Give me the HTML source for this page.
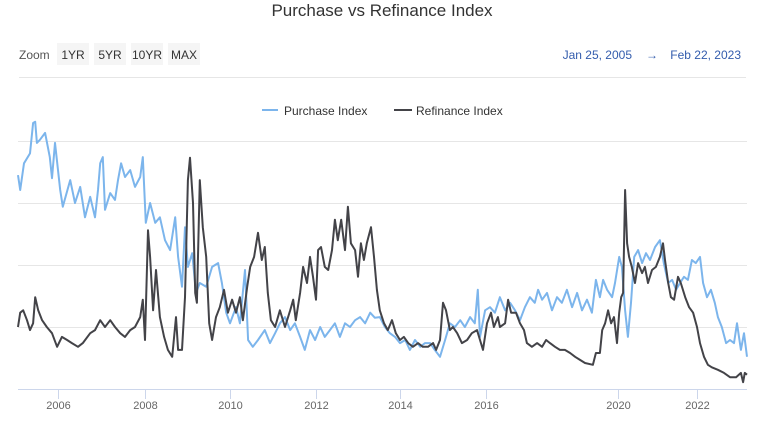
<!DOCTYPE html>
<html><head><meta charset="utf-8">
<style>
html,body{margin:0;padding:0;background:#fff;}
body{width:759px;height:422px;overflow:hidden;font-family:"Liberation Sans","DejaVu Sans",sans-serif;}
svg text{font-family:"Liberation Sans","DejaVu Sans",sans-serif;}
</style></head>
<body>
<svg id="chart" width="759" height="422" viewBox="0 0 759 422" xmlns="http://www.w3.org/2000/svg">
  <text x="382" y="16" text-anchor="middle" font-size="17" fill="#333">Purchase vs Refinance Index</text>
  <text x="19" y="59" font-size="12" fill="#555">Zoom</text>
  <g><rect x="57" y="43" width="32" height="22" fill="#f5f5f5"/><text x="73" y="59" text-anchor="middle" font-size="12" fill="#333">1YR</text></g>
  <g><rect x="94" y="43" width="32" height="22" fill="#f5f5f5"/><text x="110" y="59" text-anchor="middle" font-size="12" fill="#333">5YR</text></g>
  <g><rect x="131" y="43" width="32" height="22" fill="#f5f5f5"/><text x="147" y="59" text-anchor="middle" font-size="12" fill="#333">10YR</text></g>
  <g><rect x="168" y="43" width="32" height="22" fill="#f5f5f5"/><text x="184" y="59" text-anchor="middle" font-size="12" fill="#333">MAX</text></g>
  <text x="632" y="59" text-anchor="end" font-size="12" fill="#335cad">Jan 25, 2005</text>
  <text x="652" y="59" text-anchor="middle" font-size="12" fill="#335cad">→</text>
  <text x="741" y="59" text-anchor="end" font-size="12" fill="#335cad">Feb 22, 2023</text>
  <line x1="19" y1="77.5" x2="746" y2="77.5" stroke="#e6e6e6"/>
  <g><line x1="262" y1="110" x2="278" y2="110" stroke="#7cb5ec" stroke-width="2"/><text x="284" y="115" font-size="12" fill="#333">Purchase Index</text></g>
  <g><line x1="394" y1="110" x2="412" y2="110" stroke="#434348" stroke-width="2"/><text x="416" y="115" font-size="12" fill="#333">Refinance Index</text></g>
  <g id="grid"></g><g id="xaxis"></g><g id="series"></g>
</svg>
<script>
const gridValues = [100, 200, 300, 400];
const tickYears = [2006, 2008, 2010, 2012, 2014, 2016, 2020, 2022];
const purchaseDates = [2005.07,2005.12,2005.21,2005.35,2005.42,2005.47,2005.51,2005.58,2005.70,2005.81,2005.86,2005.93,2006.05,2006.11,2006.28,2006.39,2006.51,2006.62,2006.74,2006.85,2006.92,2006.97,2007.03,2007.08,2007.20,2007.31,2007.38,2007.45,2007.54,2007.66,2007.77,2007.89,2007.95,2008.02,2008.12,2008.24,2008.35,2008.47,2008.59,2008.71,2008.78,2008.87,2008.94,2009.01,2009.11,2009.20,2009.29,2009.44,2009.58,2009.72,2009.81,2009.91,2010.00,2010.14,2010.23,2010.35,2010.42,2010.53,2010.65,2010.81,2010.93,2011.05,2011.16,2011.28,2011.40,2011.51,2011.63,2011.74,2011.86,2011.98,2012.10,2012.21,2012.33,2012.45,2012.57,2012.69,2012.81,2012.93,2013.05,2013.17,2013.29,2013.40,2013.52,2013.64,2013.76,2013.88,2014.00,2014.12,2014.23,2014.35,2014.47,2014.58,2014.70,2014.81,2014.93,2015.05,2015.16,2015.28,2015.40,2015.51,2015.63,2015.74,2015.81,2015.86,2015.98,2016.12,2016.27,2016.42,2016.58,2016.73,2016.88,2017.03,2017.18,2017.33,2017.48,2017.58,2017.70,2017.85,2018.00,2018.15,2018.30,2018.45,2018.61,2018.76,2018.91,2019.06,2019.21,2019.33,2019.45,2019.55,2019.67,2019.82,2019.91,2020.03,2020.10,2020.18,2020.25,2020.33,2020.41,2020.51,2020.61,2020.71,2020.81,2020.94,2021.06,2021.16,2021.27,2021.37,2021.47,2021.57,2021.67,2021.77,2021.87,2021.97,2022.07,2022.14,2022.23,2022.32,2022.41,2022.48,2022.57,2022.67,2022.76,2022.85,2022.92,2023.01,2023.08,2023.15];
const purchaseValues = [345,321,364,380,429,431,397,402,413,374,340,397,321,294,337,300,326,277,310,277,321,364,374,289,316,305,337,364,342,353,326,342,374,268,300,268,277,240,224,277,213,165,261,197,219,155,171,165,197,203,171,123,106,132,106,192,79,68,79,95,74,90,106,116,95,106,84,63,95,79,100,84,95,106,84,106,100,111,116,106,123,115,116,100,90,84,74,79,63,79,68,74,74,63,52,79,106,100,111,100,116,106,160,84,127,132,123,148,127,139,127,111,132,148,139,160,144,155,127,148,139,160,132,155,127,144,123,176,148,176,160,148,171,213,197,127,84,139,213,224,203,219,208,229,240,203,171,176,160,171,181,176,208,203,213,171,148,160,139,116,100,74,79,74,106,63,90,52];
const refiDates = [2005.07,2005.12,2005.19,2005.28,2005.35,2005.42,2005.47,2005.54,2005.63,2005.74,2005.86,2005.98,2006.09,2006.21,2006.32,2006.46,2006.57,2006.74,2006.85,2006.97,2007.08,2007.20,2007.31,2007.43,2007.54,2007.66,2007.77,2007.89,2007.95,2008.00,2008.07,2008.12,2008.19,2008.26,2008.35,2008.45,2008.54,2008.64,2008.73,2008.78,2008.87,2008.94,2009.01,2009.06,2009.13,2009.18,2009.22,2009.29,2009.36,2009.44,2009.51,2009.58,2009.67,2009.76,2009.86,2009.95,2010.05,2010.14,2010.23,2010.30,2010.40,2010.47,2010.56,2010.65,2010.74,2010.81,2010.88,2010.95,2011.05,2011.16,2011.28,2011.40,2011.47,2011.53,2011.63,2011.70,2011.79,2011.86,2011.93,2012.00,2012.05,2012.12,2012.21,2012.29,2012.38,2012.45,2012.52,2012.60,2012.69,2012.76,2012.83,2012.93,2013.00,2013.07,2013.14,2013.21,2013.31,2013.38,2013.45,2013.52,2013.62,2013.71,2013.81,2013.90,2014.00,2014.09,2014.19,2014.30,2014.42,2014.53,2014.65,2014.77,2014.84,2014.93,2015.00,2015.07,2015.16,2015.23,2015.33,2015.44,2015.56,2015.67,2015.79,2015.86,2015.93,2016.03,2016.15,2016.24,2016.36,2016.42,2016.58,2016.67,2016.76,2016.91,2017.03,2017.15,2017.24,2017.39,2017.55,2017.70,2017.82,2017.94,2018.09,2018.24,2018.39,2018.55,2018.70,2018.85,2019.00,2019.24,2019.33,2019.45,2019.52,2019.61,2019.70,2019.79,2019.88,2019.97,2020.03,2020.08,2020.13,2020.18,2020.23,2020.28,2020.35,2020.43,2020.51,2020.61,2020.68,2020.76,2020.86,2020.96,2021.06,2021.14,2021.19,2021.27,2021.34,2021.42,2021.52,2021.59,2021.70,2021.80,2021.90,2022.00,2022.07,2022.16,2022.25,2022.34,2022.48,2022.62,2022.76,2022.90,2023.01,2023.06,2023.10,2023.15];
const refiValues = [100,123,127,111,95,106,148,127,111,100,90,68,84,79,74,68,74,90,95,111,100,111,100,90,84,95,100,116,144,79,256,213,127,192,116,84,63,52,116,63,63,148,337,373,300,155,139,337,261,213,106,79,116,132,160,123,144,123,148,111,165,197,213,252,208,229,155,111,100,127,100,127,144,111,155,197,171,213,181,144,224,229,197,192,224,273,240,273,224,294,235,224,181,235,208,235,261,213,160,127,106,95,111,90,79,84,74,68,74,68,68,74,63,79,139,127,95,100,90,74,79,90,95,79,63,106,123,100,116,100,106,144,123,123,106,95,74,68,74,68,79,74,68,63,63,58,52,47,42,39,58,58,95,106,127,106,116,74,123,148,155,321,235,213,197,171,203,187,197,171,192,197,213,235,208,171,148,144,181,171,148,132,123,100,74,52,39,35,31,26,19,19,26,11,26,23];

const axisYears = [2005.07, 2006, 2008, 2010, 2012, 2014, 2016, 2020, 2022, 2023.15];
const axisPx = [18, 58, 145, 230, 316, 400, 486, 618, 697, 747];
function xScale(yr){
  for(let i=0;i<axisYears.length-1;i++){
    if(yr<=axisYears[i+1]||i===axisYears.length-2){
      const t=(yr-axisYears[i])/(axisYears[i+1]-axisYears[i]);
      return axisPx[i]+t*(axisPx[i+1]-axisPx[i]);
    }
  }
}
function yScale(v){ return 389 - v*0.62; }
const NS='http://www.w3.org/2000/svg';
const grid=document.getElementById('grid');
gridValues.forEach(v=>{
  const l=document.createElementNS(NS,'line');
  
  
  l.setAttribute('x1',18);l.setAttribute('x2',747);
  const y=Math.round(yScale(v))+0.5;
  l.setAttribute('y1',y);l.setAttribute('y2',y);
  l.setAttribute('stroke','#e6e6e6');
  grid.appendChild(l);
});
const xa=document.getElementById('xaxis');
const axl=document.createElementNS(NS,'line');


axl.setAttribute('x1',18);axl.setAttribute('x2',747);axl.setAttribute('y1',389.5);axl.setAttribute('y2',389.5);
axl.setAttribute('stroke','#ccd6eb');
xa.appendChild(axl);
tickYears.forEach(yr=>{
  const x=Math.round(xScale(yr))+0.5;
  const t=document.createElementNS(NS,'line');
  
  
  t.setAttribute('x1',x);t.setAttribute('x2',x);t.setAttribute('y1',390);t.setAttribute('y2',399);
  t.setAttribute('stroke','#ccd6eb');
  xa.appendChild(t);
  const tx=document.createElementNS(NS,'text');
  
  
  tx.setAttribute('x',x);tx.setAttribute('y',409);tx.setAttribute('text-anchor','middle');
  tx.setAttribute('font-size','11');tx.setAttribute('fill','#666');
  tx.textContent=String(yr);
  xa.appendChild(tx);
});
const sg=document.getElementById('series');
function drawLine(dates, vals, color, name){
  const p=document.createElementNS(NS,'path');
  
  
  p.setAttribute('d',dates.map((d,i)=>(i?'L':'M')+xScale(d).toFixed(1)+' '+yScale(vals[i]).toFixed(1)).join(' '));
  p.setAttribute('fill','none');p.setAttribute('stroke',color);p.setAttribute('stroke-width','2');
  p.setAttribute('stroke-linejoin','round');
  sg.appendChild(p);
}
drawLine(purchaseDates, purchaseValues, '#7cb5ec', 'purchase-index-line');
drawLine(refiDates, refiValues, '#434348', 'refinance-index-line');
</script>
</body></html>
